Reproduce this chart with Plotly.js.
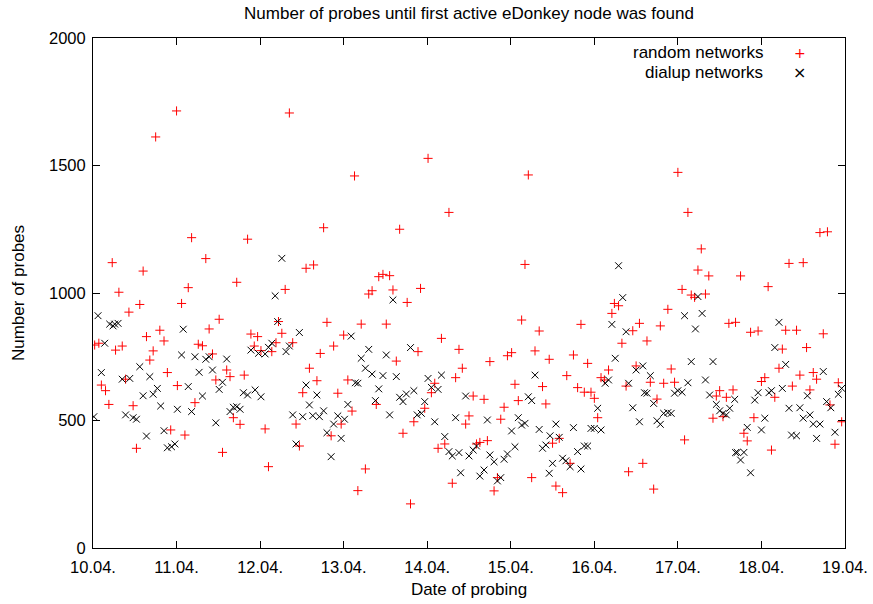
<!DOCTYPE html>
<html>
<head>
<meta charset="utf-8">
<script src="https://cdn.plot.ly/plotly-3.0.1.min.js"></script>
<style>html,body{margin:0;padding:0;background:#fff;}#chart{width:873px;height:604px;}</style>
</head>
<body>
<div id="chart"></div>
<script>
// Days since 10.04. (hourly probes)
const randomDays = [0.02,0.07,0.10,0.15,0.19,0.23,0.27,0.31,0.35,0.39,0.43,0.48,0.52,0.56,0.60,0.64,0.68,0.72,0.75,0.80,0.85,0.89,0.93,1.00,1.01,1.06,1.10,1.14,1.18,1.22,1.26,1.31,1.35,1.39,1.43,1.47,1.51,1.55,1.60,1.64,1.68,1.72,1.76,1.81,1.85,1.89,1.93,1.97,2.01,2.06,2.10,2.14,2.19,2.22,2.26,2.30,2.35,2.39,2.43,2.47,2.51,2.55,2.59,2.64,2.68,2.72,2.76,2.80,2.85,2.88,2.93,2.97,3.00,3.05,3.10,3.13,3.17,3.21,3.26,3.30,3.34,3.39,3.42,3.47,3.51,3.55,3.59,3.63,3.67,3.71,3.76,3.80,3.84,3.89,3.92,3.97,4.01,4.05,4.09,4.13,4.17,4.21,4.26,4.30,4.34,4.38,4.42,4.46,4.50,4.55,4.59,4.63,4.68,4.72,4.75,4.80,4.84,4.88,4.92,4.96,5.01,5.05,5.09,5.13,5.17,5.21,5.25,5.29,5.34,5.38,5.42,5.46,5.50,5.54,5.58,5.62,5.67,5.71,5.75,5.80,5.84,5.88,5.92,5.96,6.00,6.04,6.08,6.12,6.17,6.21,6.24,6.29,6.33,6.38,6.41,6.46,6.50,6.54,6.58,6.63,6.67,6.71,6.75,6.79,6.83,6.88,6.92,6.96,7.00,7.05,7.08,7.12,7.16,7.20,7.24,7.28,7.33,7.37,7.42,7.46,7.50,7.54,7.58,7.61,7.66,7.69,7.75,7.79,7.83,7.87,7.91,7.96,8.00,8.04,8.08,8.12,8.16,8.21,8.25,8.29,8.33,8.37,8.42,8.46,8.50,8.54,8.58,8.62,8.66,8.70,8.74,8.79,8.82,8.88,8.92,8.96];
const randomProbes = [796,803,639,617,563,1119,776,1003,792,662,925,558,391,955,1086,829,737,773,1612,854,812,688,463,1714,637,959,443,1021,1217,570,799,793,1135,859,761,659,897,375,698,672,511,1042,485,678,1211,839,792,829,774,467,319,770,805,888,842,1014,1706,805,486,400,609,1097,705,1110,656,763,1256,885,440,792,607,486,835,659,537,1459,225,878,310,996,1009,563,1064,1073,878,1068,1012,733,1250,450,963,173,495,770,1018,548,1528,609,646,391,822,408,1316,254,668,779,705,486,518,596,408,414,583,421,731,224,276,505,552,754,766,642,578,894,1112,1463,276,773,851,633,565,740,411,243,430,217,676,332,757,629,877,611,724,611,587,511,668,659,698,920,959,950,803,635,299,852,714,881,332,812,650,231,584,871,646,936,702,650,1473,1014,424,1316,992,983,1090,1173,996,1067,509,596,617,515,591,881,620,885,1067,450,420,846,511,851,653,668,1025,384,591,705,780,854,1116,635,854,678,1119,786,620,688,662,1237,840,1240,561,407,648,495];

const dialupDays = [0.01,0.06,0.10,0.14,0.20,0.24,0.26,0.30,0.35,0.39,0.44,0.48,0.52,0.56,0.60,0.64,0.68,0.72,0.77,0.81,0.85,0.89,0.94,0.98,1.01,1.06,1.08,1.14,1.18,1.22,1.27,1.31,1.35,1.39,1.43,1.47,1.51,1.55,1.60,1.64,1.68,1.72,1.76,1.80,1.85,1.89,1.94,1.98,2.01,2.06,2.10,2.14,2.18,2.21,2.26,2.31,2.35,2.39,2.43,2.47,2.51,2.55,2.59,2.63,2.68,2.71,2.76,2.80,2.85,2.88,2.93,2.97,3.01,3.05,3.09,3.14,3.17,3.21,3.26,3.30,3.34,3.38,3.42,3.47,3.51,3.55,3.59,3.63,3.67,3.71,3.75,3.80,3.84,3.88,3.93,3.97,4.01,4.05,4.09,4.13,4.17,4.21,4.26,4.30,4.34,4.38,4.40,4.46,4.50,4.55,4.59,4.63,4.68,4.72,4.75,4.80,4.84,4.88,4.92,4.96,5.01,5.05,5.09,5.13,5.17,5.21,5.25,5.29,5.34,5.38,5.42,5.46,5.47,5.50,5.54,5.58,5.62,5.66,5.71,5.75,5.80,5.84,5.88,5.92,5.96,6.00,6.04,6.08,6.13,6.17,6.21,6.25,6.29,6.34,6.38,6.41,6.46,6.50,6.54,6.58,6.60,6.63,6.67,6.71,6.75,6.79,6.83,6.88,6.92,6.96,7.00,7.05,7.08,7.12,7.16,7.21,7.24,7.29,7.33,7.38,7.42,7.46,7.50,7.54,7.58,7.62,7.68,7.69,7.71,7.75,7.79,7.83,7.87,7.92,7.96,8.00,8.04,8.09,8.12,8.16,8.21,8.25,8.29,8.33,8.36,8.42,8.46,8.50,8.55,8.58,8.62,8.66,8.70,8.74,8.78,8.83,8.88,8.92,8.96];
const dialupProbes = [515,911,688,803,878,871,878,881,662,522,665,511,505,711,597,439,672,603,626,557,460,393,397,408,544,757,858,633,535,750,689,596,740,750,698,491,622,650,741,535,552,554,544,609,600,776,620,763,593,761,787,803,989,888,1136,770,792,522,408,845,515,639,561,519,600,515,538,452,358,486,518,430,505,563,831,648,646,744,705,779,682,578,624,676,757,522,973,672,591,574,604,786,617,522,528,574,665,630,495,622,678,437,378,361,511,374,295,596,361,384,400,282,306,502,365,338,263,276,348,369,459,397,511,482,489,593,578,678,465,391,404,293,440,332,486,434,352,342,319,472,378,310,400,400,469,469,548,463,646,659,877,744,1107,982,848,646,550,698,495,714,609,607,676,567,499,485,528,531,528,607,617,611,911,648,731,859,986,920,659,600,731,563,538,528,522,548,583,374,375,345,375,473,295,580,609,463,509,609,617,786,885,626,720,548,443,440,550,509,597,522,486,430,486,692,574,550,454,603,626];

const tickDays = [0,1,2,3,4,5,6,7,8,9];
const tickLabels = ["10.04.","11.04.","12.04.","13.04.","14.04.","15.04.","16.04.","17.04.","18.04.","19.04."];
const seriesNames = ["random networks","dialup networks"];

const FONT = "Liberation Sans, Arial, Helvetica, sans-serif";
const TXT = 17;

const traces = [
  {x: randomDays, y: randomProbes, type: "scatter", mode: "markers", name: seriesNames[0],
   marker: {symbol: "cross-thin-open", size: 6.5, color: "#ff0000", line: {color: "#ff0000", width: 1}}},
  {x: dialupDays, y: dialupProbes, type: "scatter", mode: "markers", name: seriesNames[1],
   marker: {symbol: "x-thin-open", size: 6.8, color: "#000000", line: {color: "#000000", width: 1}}}
];

const axisCommon = {showline: true, linecolor: "#000", linewidth: 1, mirror: "ticks",
  ticks: "inside", ticklen: 7, tickcolor: "#000", tickwidth: 1, showgrid: false, zeroline: false,
  tickfont: {family: FONT, size: 16.5, color: "#000"}};

const layout = {
  width: 873, height: 604,
  margin: {l: 93, r: 28, t: 38, b: 56},
  paper_bgcolor: "#fff", plot_bgcolor: "#fff",
  showlegend: false,
  font: {family: FONT, size: TXT, color: "#000"},
  title: {text: "Number of probes until first active eDonkey node was found",
    font: {family: FONT, size: TXT, color: "#000"},
    xref: "paper", x: 0.5, xanchor: "center", yref: "container", y: 0.978, yanchor: "middle"},
  xaxis: Object.assign({}, axisCommon, {range: [0, 9], tickvals: tickDays, ticktext: tickLabels,
    ticklabelstandoff: 4,
    title: {text: "Date of probing", font: {family: FONT, size: TXT, color: "#000"}, standoff: 8}}),
  yaxis: Object.assign({}, axisCommon, {range: [0, 2000], dtick: 500, tick0: 0,
    ticklabelstandoff: 3,
    title: {text: "Number of probes", font: {family: FONT, size: TXT, color: "#000"}, standoff: 20}}),
  annotations: [
    {xref: "paper", yref: "paper", x: 0.894, y: 0.9706, xanchor: "right", yanchor: "middle",
     text: seriesNames[0], showarrow: false, font: {family: FONT, size: TXT, color: "#000"}},
    {xref: "paper", yref: "paper", x: 0.894, y: 0.9333, xanchor: "right", yanchor: "middle",
     text: seriesNames[1], showarrow: false, font: {family: FONT, size: TXT, color: "#000"}},
    {xref: "paper", yref: "paper", x: 0.940, y: 0.9706, xanchor: "center", yanchor: "middle",
     text: "+", showarrow: false, font: {family: "DejaVu Sans", size: 14, color: "#ff0000"}},
    {xref: "paper", yref: "paper", x: 0.940, y: 0.9333, xanchor: "center", yanchor: "middle",
     text: "×", showarrow: false, font: {family: "DejaVu Sans", size: 16, color: "#000"}}
  ]
};

Plotly.newPlot("chart", traces, layout, {displayModeBar: false, staticPlot: true});
</script>
</body>
</html>
